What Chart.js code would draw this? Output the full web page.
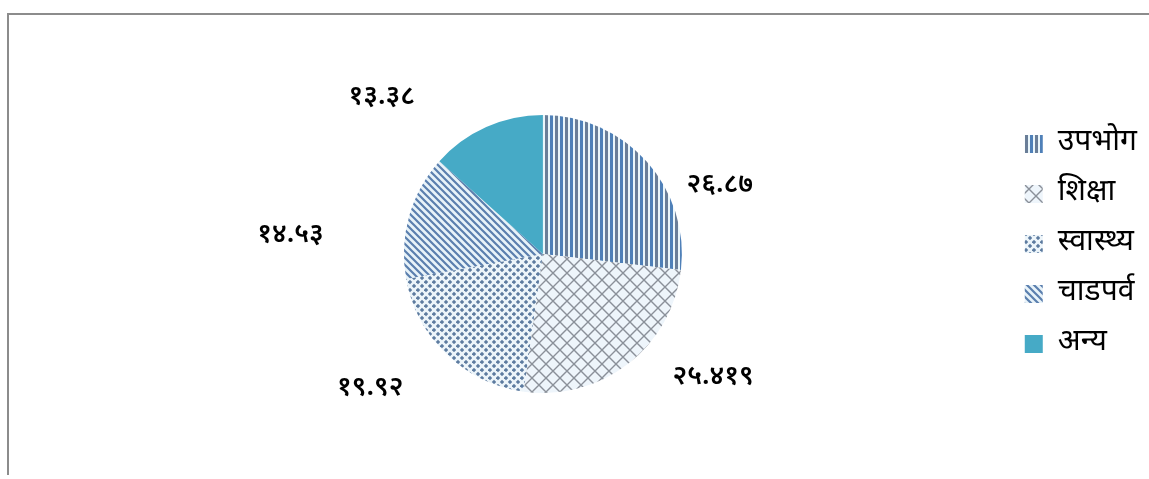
<!DOCTYPE html>
<html>
<head>
<meta charset="utf-8">
<script src="https://cdn.jsdelivr.net/npm/chart.js@4"></script>
<style>
  body { margin: 0; background: #fff; }
  #wrap { position: relative; width: 1149px; height: 479px; }
  #frame { position: absolute; left: 7px; top: 13px; right: 0; bottom: 4px;
           border-top: 2px solid #8c8c8c; border-left: 2px solid #8c8c8c; }
  canvas { position: absolute; left: 0; top: 0; }
</style>
</head>
<body>
<div id="wrap">
  <div id="frame"></div>
  <canvas id="pieChart" width="1149" height="479"></canvas>
</div>
<script>
// data
const categories = ['उपभोग', 'शिक्षा', 'स्वास्थ्य', 'चाडपर्व', 'अन्य'];
const shares = [26.87, 25.419, 19.92, 14.53, 13.38];

const devFont = "'Noto Sans Devanagari', 'Noto Serif Devanagari', 'Lohit Devanagari', 'Noto Sans', sans-serif";

function toDevanagari(v) {
    return String(v).replace(/\d/g, d => '०१२३४५६७८९'[d]);
}

// pattern tiles
function makePattern(size, draw) {
    const c = document.createElement('canvas');
    c.width = size; c.height = size;
    const g = c.getContext('2d');
    draw(g, size);
    return document.getElementById('pieChart').getContext('2d').createPattern(c, 'repeat');
}

const vStripes = makePattern(10, (g, s) => {
    g.fillStyle = '#eaf6fb'; g.fillRect(0, 0, s, s);
    g.fillStyle = '#4f80b8'; g.fillRect(0, 0, 3, s);
    g.fillStyle = '#6a7e98'; g.fillRect(5, 0, 3, s);
});

const crossHatch = makePattern(14, (g, s) => {
    g.fillStyle = '#eef5fb'; g.fillRect(0, 0, s, s);
    g.strokeStyle = '#8a9099'; g.lineWidth = 1.4;
    g.beginPath();
    g.moveTo(0, 0); g.lineTo(s, s);
    g.moveTo(s, 0); g.lineTo(0, s);
    g.stroke();
});

const dots = makePattern(8, (g, s) => {
    g.fillStyle = '#edf5fa'; g.fillRect(0, 0, s, s);
    g.fillStyle = '#5d7b9f';
    const diamond = (x, y) => {
        g.beginPath();
        g.moveTo(x, y - 2.2); g.lineTo(x + 2.2, y); g.lineTo(x, y + 2.2); g.lineTo(x - 2.2, y);
        g.closePath(); g.fill();
    };
    diamond(2, 2); diamond(6, 6);
});

const diagStripes = makePattern(7, (g, s) => {
    g.fillStyle = '#e8f3f9'; g.fillRect(0, 0, s, s);
    g.strokeStyle = '#5b7fae'; g.lineWidth = 2.2;
    g.beginPath();
    g.moveTo(-2, -2); g.lineTo(s + 2, s + 2);
    g.moveTo(-2, s - 2); g.lineTo(2, s + 2);
    g.moveTo(s - 2, -2); g.lineTo(s + 2, 2);
    g.stroke();
});

const fills = [vStripes, crossHatch, dots, diagStripes, '#46aac6'];

// label placement: angle shift (deg) and radius factor per slice
const labelShift = [21, -16, 8, -12, -22];
const labelRadius = [1.36, 1.52, 1.58, 1.82, 1.61];

const outsideLabels = {
    id: 'outsideLabels',
    afterLayout(chart) {
        // legend sits a little above the pie's middle
        chart.legend.top -= 10;
        chart.legend.bottom -= 10;
    },
    afterDraw(chart) {
        const ctx = chart.ctx;
        const meta = chart.getDatasetMeta(0);
        ctx.save();
        ctx.fillStyle = '#000';
        ctx.font = '600 27px ' + devFont;
        ctx.textAlign = 'center';
        ctx.textBaseline = 'middle';
        meta.data.forEach((arc, i) => {
            const p = arc.getProps(['x', 'y', 'startAngle', 'endAngle', 'outerRadius'], true);
            const mid = (p.startAngle + p.endAngle) / 2 + labelShift[i] * Math.PI / 180;
            const r = p.outerRadius * labelRadius[i];
            ctx.fillText(toDevanagari(shares[i]), p.x + Math.cos(mid) * r, p.y + Math.sin(mid) * r);
        });
        ctx.restore();
    }
};

new Chart(document.getElementById('pieChart'), {
    type: 'pie',
    data: {
        labels: categories,
        datasets: [{
            data: shares,
            backgroundColor: fills,
            borderWidth: 0
        }]
    },
    options: {
        responsive: false,
        animation: false,
        layout: { padding: { left: 81, top: 115, bottom: 86, right: 2 } },
        plugins: {
            legend: {
                position: 'right',
                labels: {
                    boxWidth: 18,
                    boxHeight: 18,
                    padding: 20,
                    color: '#000',
                    font: { size: 30, family: devFont }
                }
            },
            tooltip: { enabled: false }
        }
    },
    plugins: [outsideLabels]
});
</script>
</body>
</html>
